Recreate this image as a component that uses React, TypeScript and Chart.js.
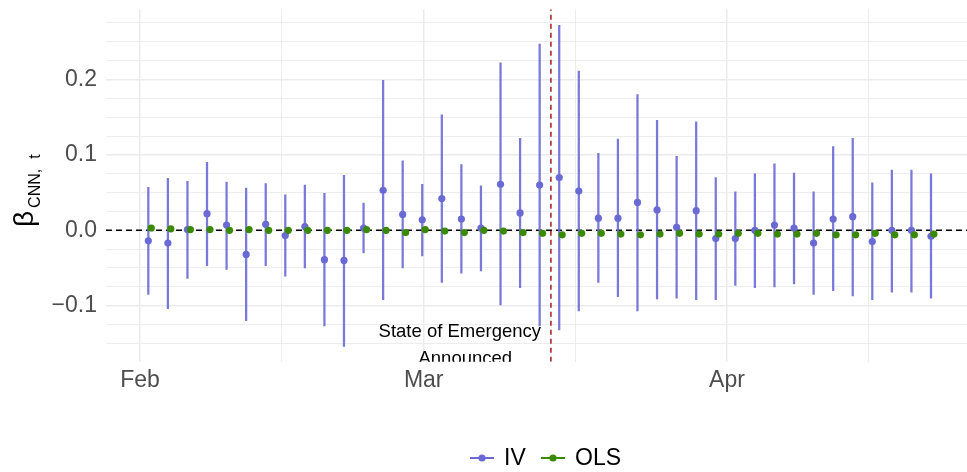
import { useEffect, useRef } from 'react';
import { Chart, registerables } from 'chart.js';

Chart.register(...registerables);

// ---------------- data ----------------
const dates = [
  '2020-02-02', '2020-02-04', '2020-02-06', '2020-02-08', '2020-02-10', '2020-02-12', '2020-02-14',
  '2020-02-16', '2020-02-18', '2020-02-20', '2020-02-22', '2020-02-24', '2020-02-26', '2020-02-28',
  '2020-03-01', '2020-03-03', '2020-03-05', '2020-03-07', '2020-03-09', '2020-03-11', '2020-03-13',
  '2020-03-15', '2020-03-17', '2020-03-19', '2020-03-21', '2020-03-23', '2020-03-25', '2020-03-27',
  '2020-03-29', '2020-03-31', '2020-04-02', '2020-04-04', '2020-04-06', '2020-04-08', '2020-04-10',
  '2020-04-12', '2020-04-14', '2020-04-16', '2020-04-18', '2020-04-20', '2020-04-22',
];

const ivEstimate = [
  -0.014, -0.017, 0.001, 0.022, 0.007, -0.032, 0.008, -0.007, 0.005, -0.039, -0.040,
  0.003, 0.053, 0.021, 0.014, 0.042, 0.015, 0.003, 0.061, 0.023, 0.060,
  0.070, 0.052, 0.016, 0.016, 0.037, 0.027, 0.004, 0.026, -0.011, -0.011,
  0.000, 0.007, 0.003, -0.017, 0.015, 0.018, -0.015, 0.000, 0.000, -0.008,
];

const ivLower = [
  -0.085, -0.104, -0.064, -0.047, -0.052, -0.120, -0.047, -0.061, -0.050, -0.127, -0.154,
  -0.030, -0.092, -0.050, -0.034, -0.069, -0.057, -0.054, -0.099, -0.076, -0.127,
  -0.132, -0.107, -0.069, -0.088, -0.107, -0.091, -0.090, -0.092, -0.092, -0.073,
  -0.076, -0.075, -0.071, -0.085, -0.080, -0.087, -0.092, -0.082, -0.082, -0.090,
];

const ivUpper = [
  0.057, 0.069, 0.065, 0.090, 0.064, 0.056, 0.062, 0.047, 0.060, 0.049, 0.073,
  0.036, 0.199, 0.092, 0.061, 0.153, 0.087, 0.059, 0.222, 0.122, 0.247,
  0.272, 0.211, 0.102, 0.121, 0.180, 0.146, 0.098, 0.144, 0.070, 0.051,
  0.075, 0.088, 0.076, 0.051, 0.111, 0.122, 0.063, 0.080, 0.080, 0.075,
];

const olsEstimate = [
  0.003, 0.002, 0.001, 0.001, 0.000, 0.001, 0.000, 0.000, 0.000, 0.000, 0.000,
  0.001, 0.000, -0.003, 0.001, -0.001, -0.003, 0.000, -0.001, -0.003, -0.004,
  -0.006, -0.004, -0.004, -0.005, -0.006, -0.005, -0.004, -0.005, -0.005, -0.004,
  -0.004, -0.005, -0.005, -0.004, -0.006, -0.006, -0.004, -0.006, -0.006, -0.005,
];

const seriesNames = ['IV', 'OLS'];
const monthBreaks = ['2020-02-01', '2020-03-01', '2020-04-01'];
const monthLabels = ['Feb', 'Mar', 'Apr'];
const monthMinorBreaks = ['2020-02-15T12:00:00Z', '2020-03-16T12:00:00Z', '2020-04-15T12:00:00Z'];
const yMajorBreaks = [-0.1, 0, 0.1, 0.2];
const yMajorLabels = ['\u22120.1', '0.0', '0.1', '0.2'];
const yMinorBreaks = [-0.15, -0.125, -0.075, -0.05, -0.025, 0.025, 0.05, 0.075, 0.125, 0.15, 0.175, 0.225, 0.25, 0.275];
const emergencyDate = '2020-03-14';
const annotationLines = ['State of Emergency', 'Announced'];
const annotationX = ['2020-03-04T16:30:00Z', '2020-03-05T06:00:00Z'];
const annotationY = [-0.142, -0.1773];

// ---------------- helpers / style ----------------
const ORIGIN = Date.parse('2020-02-01');
const dayOf = (s: string) => (Date.parse(s) - ORIGIN) / 86400000;

const X_MIN = -3.475;
const X_MAX = 84.53;
const Y_MIN = -0.1743;
const Y_MAX = 0.2931;
const DODGE = 0.15;

const IV_COLOR = '#6a6ad4';
const IV_LINE = 'rgba(106,106,214,0.9)';
const OLS_COLOR = '#3a8a00';
const GRID = '#ebebeb';
const TICK_COLOR = '#4d4d4d';
const FONT = '"Liberation Sans", Arial, Helvetica, sans-serif';

const majorX = monthBreaks.map(dayOf);
const minorX = monthMinorBreaks.map(dayOf);

const textPlugin = {
  id: 'textOverlay',
  afterDatasetsDraw(chart: any) {
    const { ctx, chartArea, scales } = chart;
    ctx.save();
    ctx.beginPath();
    ctx.rect(chartArea.left, chartArea.top, chartArea.right - chartArea.left, chartArea.bottom - chartArea.top);
    ctx.clip();
    ctx.fillStyle = '#000';
    ctx.font = `18.5px ${FONT}`;
    ctx.textAlign = 'center';
    ctx.textBaseline = 'alphabetic';
    annotationLines.forEach((t, i) => {
      ctx.fillText(t, scales.x.getPixelForValue(dayOf(annotationX[i])), scales.y.getPixelForValue(annotationY[i]));
    });
    ctx.restore();
  },
  afterDraw(chart: any) {
    const { ctx, chartArea } = chart;
    // y axis title: beta_{CNN, t}
    ctx.save();
    const betaFont = `28px ${FONT}`;
    const subFont = `16px ${FONT}`;
    ctx.font = betaFont;
    const bw = ctx.measureText('\u03b2').width;
    ctx.font = subFont;
    const cw = ctx.measureText('CNN,').width;
    const cy = (chartArea.top + chartArea.bottom) / 2;
    ctx.translate(33, cy + 41.5);
    ctx.rotate(-Math.PI / 2);
    ctx.fillStyle = '#000';
    ctx.textAlign = 'left';
    ctx.textBaseline = 'alphabetic';
    ctx.font = betaFont;
    ctx.fillText('\u03b2', 0, 0);
    ctx.font = subFont;
    ctx.fillText('CNN,', bw + 3, 6.5);
    ctx.fillText('t', bw + 3 + cw + 10, 6.5);
    ctx.restore();

    // legend
    ctx.save();
    const ly = 458;
    const items = [
      { name: seriesNames[0], color: IV_COLOR, x: 470 },
      { name: seriesNames[1], color: OLS_COLOR, x: 541 },
    ];
    ctx.font = `23px ${FONT}`;
    ctx.textBaseline = 'middle';
    ctx.textAlign = 'left';
    items.forEach((it) => {
      ctx.strokeStyle = it.color;
      ctx.lineWidth = 2;
      ctx.beginPath();
      ctx.moveTo(it.x, ly);
      ctx.lineTo(it.x + 24, ly);
      ctx.stroke();
      ctx.fillStyle = it.color;
      ctx.beginPath();
      ctx.arc(it.x + 12, ly, 3.6, 0, Math.PI * 2);
      ctx.fill();
      ctx.fillStyle = '#000';
      ctx.fillText(it.name, it.x + 34, ly + 1);
    });
    ctx.restore();
  },
};

export default function App() {
  const ref = useRef<HTMLCanvasElement>(null);

  useEffect(() => {
    const canvas = ref.current;
    if (!canvas) return;
    const ivPoints = dates.map((d, i) => ({ x: dayOf(d) - DODGE, y: ivEstimate[i] }));
    const ivBars = dates.map((d, i) => ({ x: dayOf(d) - DODGE, y: [ivLower[i], ivUpper[i]] }));
    const olsPoints = dates.map((d, i) => ({ x: dayOf(d) + DODGE, y: olsEstimate[i] }));
    const eDay = dayOf(emergencyDate);

    const chart = new Chart(canvas, {
      type: 'scatter',
      data: {
        datasets: [
          {
            type: 'line',
            label: 'zero',
            data: [{ x: X_MIN, y: 0 }, { x: X_MAX, y: 0 }],
            borderColor: '#000',
            borderWidth: 1.5,
            borderDash: [6, 4],
            pointRadius: 0,
            order: 5,
          } as any,
          {
            type: 'bar',
            label: 'IV CI',
            data: ivBars as any,
            backgroundColor: IV_LINE,
            borderWidth: 0,
            barThickness: 1.6,
            grouped: false,
            order: 4,
          } as any,
          {
            type: 'line',
            label: 'emergency',
            data: [{ x: eDay, y: Y_MIN }, { x: eDay, y: Y_MAX }],
            borderColor: '#9e1c1c',
            borderWidth: 1.5,
            borderDash: [5, 4],
            pointRadius: 0,
            order: 3,
          } as any,
          {
            label: seriesNames[0],
            data: ivPoints,
            backgroundColor: IV_COLOR,
            borderWidth: 0,
            pointRadius: 3.6,
            order: 2,
          },
          {
            label: seriesNames[1],
            data: olsPoints,
            backgroundColor: OLS_COLOR,
            borderWidth: 0,
            pointRadius: 3.6,
            order: 1,
          },
        ],
      },
      options: {
        animation: false,
        responsive: false,
        events: [],
        layout: { autoPadding: false, padding: { top: 9.3, left: 0, right: 0, bottom: 0 } },
        plugins: {
          legend: { display: false },
          tooltip: { enabled: false },
        },
        scales: {
          x: {
            type: 'linear',
            min: X_MIN,
            max: X_MAX,
            offset: false,
            afterBuildTicks: (axis: any) => {
              axis.ticks = [...majorX, ...minorX].sort((a, b) => a - b).map((v) => ({ value: v }));
            },
            afterFit: (scale: any) => {
              scale.height = 110.3;
              scale.paddingLeft = 0;
              scale.paddingRight = 0;
            },
            border: { display: false },
            grid: {
              offset: false,
              color: GRID,
              drawTicks: false,
              lineWidth: (c: any) => (c.tick && majorX.includes(c.tick.value) ? 1.5 : 0.9),
            },
            ticks: {
              autoSkip: false,
              maxRotation: 0,
              padding: 5,
              color: TICK_COLOR,
              font: { family: FONT, size: 23 },
              callback: (v: any) => {
                const idx = majorX.indexOf(Number(v));
                return idx >= 0 ? monthLabels[idx] : '';
              },
            },
          },
          y: {
            type: 'linear',
            min: Y_MIN,
            max: Y_MAX,
            afterBuildTicks: (axis: any) => {
              axis.ticks = [...yMajorBreaks, ...yMinorBreaks].sort((a, b) => a - b).map((v) => ({ value: v }));
            },
            afterFit: (scale: any) => {
              scale.width = 106;
              scale.paddingTop = 0;
              scale.paddingBottom = 0;
            },
            border: { display: false },
            grid: {
              offset: false,
              color: GRID,
              drawTicks: false,
              lineWidth: (c: any) =>
                c.tick && yMajorBreaks.some((m) => Math.abs(m - c.tick.value) < 1e-9) ? 1.5 : 0.9,
            },
            ticks: {
              autoSkip: false,
              padding: 9,
              color: TICK_COLOR,
              font: { family: FONT, size: 23 },
              callback: (v: any) => {
                const idx = yMajorBreaks.findIndex((m) => Math.abs(m - Number(v)) < 1e-9);
                return idx >= 0 ? yMajorLabels[idx] : '';
              },
            },
          },
        },
      },
      plugins: [textPlugin],
    } as any);

    return () => chart.destroy();
  }, []);

  return (
    <div style={{ position: 'absolute', left: 0, top: 0, width: 967, height: 472, background: '#fff' }}>
      <canvas ref={ref} width={967} height={472} style={{ display: 'block' }} />
    </div>
  );
}
